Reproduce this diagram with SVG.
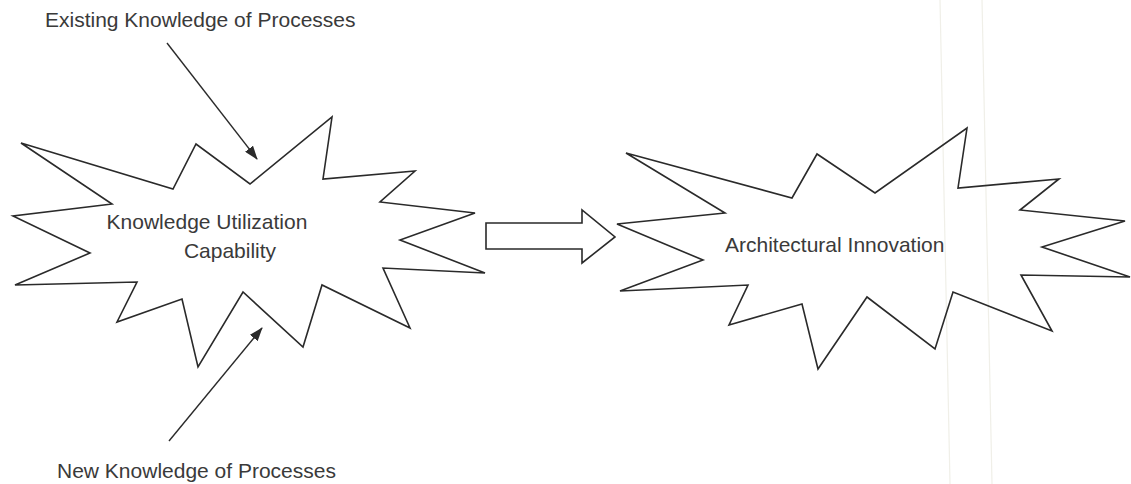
<svg xmlns="http://www.w3.org/2000/svg" width="1131" height="484" viewBox="0 0 1131 484">
<style>
.burst{fill:none;stroke:#2a2a2a;stroke-width:1.6;stroke-linejoin:miter}
.lbl{font-family:"Liberation Sans",Arial,sans-serif;font-size:21px;fill:#3a3a3a}
.conn{stroke:#2a2a2a;stroke-width:1.4;fill:none}
.block{fill:#fff;stroke:#2a2a2a;stroke-width:1.6}
.fold{stroke:#f0efe8;stroke-width:1.2}
</style>
<defs>
<marker id="ah" viewBox="0 0 14 10" refX="13" refY="5" markerWidth="14" markerHeight="10" markerUnits="userSpaceOnUse" orient="auto">
<path d="M0,0 L14,5 L0,10 Z" fill="#2a2a2a"/>
</marker>
</defs>
<rect width="1131" height="484" fill="#fff"/>
<line class="fold" x1="940" y1="0" x2="950" y2="484"/>
<line class="fold" x1="982" y1="0" x2="992" y2="484"/>
<g id="node-kuc">
<polygon class="burst" points="21,143 173,189 196,144 250,184 332,117 323,179 415,171 380,202 475,213 400,240 485,273 383,268 410,328 322,285 303,347 243,292 198,367 182,299 117,322 137,282 15,285 90,253 13,216 112,204"/>
<text class="lbl" x="207" y="229" text-anchor="middle">Knowledge Utilization</text>
<text class="lbl" x="230" y="258" text-anchor="middle">Capability</text>
</g>
<g id="node-ai">
<polygon class="burst" points="626,153 792,198 817,154 875,193 967,128 958,188 1059,179 1020,210 1125,221 1042,247 1130,277 1021,275 1052,331 953,292 935,349 867,297 818,369 802,304 729,325 748,285 620,291 703,260 617,224 725,213"/>
<text class="lbl" x="725" y="252">Architectural Innovation</text>
</g>
<g id="label-existing">
<text class="lbl" x="45" y="27">Existing Knowledge of Processes</text>
</g>
<g id="label-new">
<text class="lbl" x="57" y="478">New Knowledge of Processes</text>
</g>
<g id="connectors">
<line class="conn" x1="167" y1="43" x2="257" y2="159" marker-end="url(#ah)"/>
<line class="conn" x1="169" y1="441" x2="262" y2="328" marker-end="url(#ah)"/>
<polygon class="block" points="486,223 582,223 582,210 615,237 582,263 582,249 486,249"/>
</g>
</svg>
